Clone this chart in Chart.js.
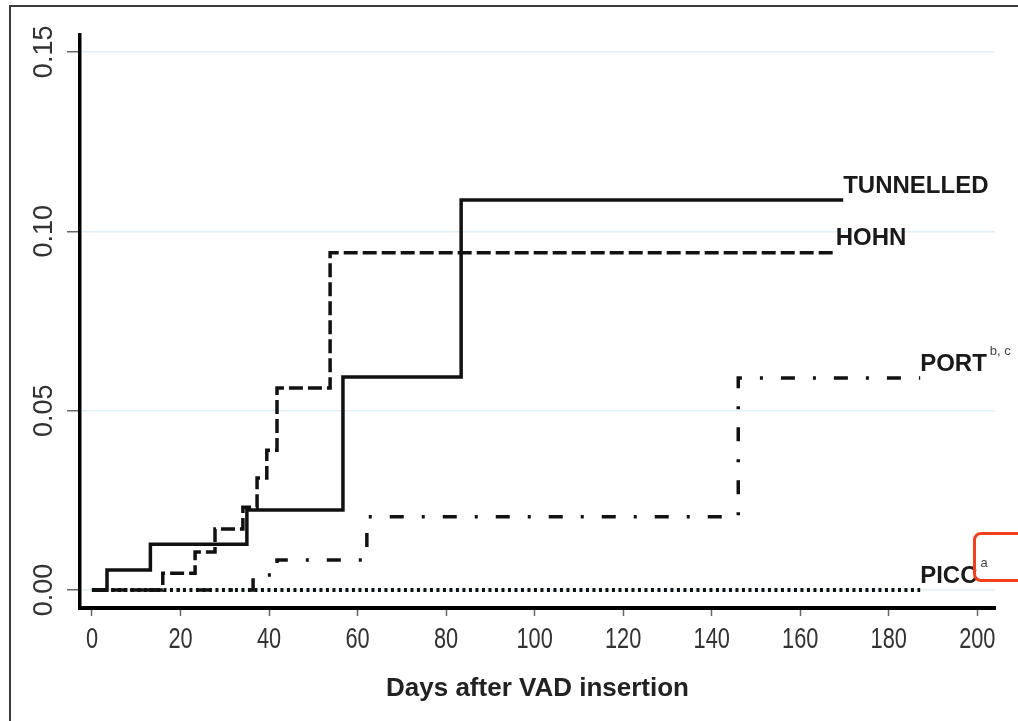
<!DOCTYPE html>
<html>
<head>
<meta charset="utf-8">
<script src="https://cdn.jsdelivr.net/npm/chart.js@4"></script>
<style>
  body { margin: 0; background: #fff; }
  #wrap { position: relative; width: 1018px; height: 721px; overflow: hidden; }
  #frame { position: absolute; left: 9px; top: 5px; width: 1100px; height: 800px;
           border-left: 2px solid #3a3a3a; border-top: 2px solid #3a3a3a; }
  #mark { position: absolute; left: 973px; top: 532px; width: 70px; height: 44px;
          border: 3px solid #f2401b; border-radius: 8px; }
  canvas { position: absolute; left: 0; top: 0; }
</style>
</head>
<body>
<div id="wrap">
  <canvas id="km" width="1018" height="721"></canvas>
  <div id="frame"></div>
  <div id="mark"></div>
</div>
<script>
// cumulative incidence (days, proportion)
const tunnelledDays = [0, 3.4, 13.2, 35, 56.7, 83.4, 169.7];
const tunnelledVals = [0, 0.0056, 0.0128, 0.0223, 0.0594, 0.1087, 0.1087];

const hohnDays = [0, 16, 23.3, 27.8, 34.1, 37.3, 39.5, 41.8, 53.8, 168];
const hohnVals = [0, 0.0047, 0.0106, 0.017, 0.0231, 0.0312, 0.039, 0.0563, 0.094, 0.094];

const portDays = [0, 36.4, 41.8, 62.1, 146, 187.1];
const portVals = [0, 0.0042, 0.0084, 0.0204, 0.0591, 0.0591];

const piccDays = [0, 187.1];
const piccVals = [0, 0];

const seriesNames = ['PICC', 'PORT', 'HOHN', 'TUNNELLED'];
const seriesSup = ['a', 'b, c', '', ''];

const xTicks = [0, 20, 40, 60, 80, 100, 120, 140, 160, 180, 200];
const yTicks = [0, 0.05, 0.10, 0.15];

const sans = "'Liberation Sans', Arial, sans-serif";

function pts(xs, ys) {
  return xs.map((x, i) => ({ x: x, y: ys[i] }));
}

// tick labels: y turned on their side, x squeezed like the print
const tickLabels = {
  id: 'tickLabels',
  afterDraw(chart) {
    const ctx = chart.ctx;
    const y = chart.scales.y;
    const x = chart.scales.x;
    ctx.save();
    ctx.fillStyle = '#333';
    ctx.textAlign = 'center';
    ctx.textBaseline = 'middle';
    ctx.font = '27px ' + sans;
    yTicks.forEach(v => {
      ctx.save();
      ctx.translate(45, y.getPixelForValue(v));
      ctx.rotate(-Math.PI / 2);
      ctx.fillText(v.toFixed(2), 0, 0);
      ctx.restore();
    });
    ctx.font = '29px ' + sans;
    xTicks.forEach(v => {
      ctx.save();
      ctx.translate(x.getPixelForValue(v), 640);
      ctx.scale(0.75, 1);
      ctx.fillText(String(v), 0, 0);
      ctx.restore();
    });
    ctx.restore();
  }
};

// name at the end of each curve
const endLabels = {
  id: 'endLabels',
  afterDatasetsDraw(chart) {
    const ctx = chart.ctx;
    ctx.save();
    chart.data.datasets.forEach((ds, i) => {
      const meta = chart.getDatasetMeta(i);
      const last = meta.data[meta.data.length - 1];
      const tx = last.x;
      const ty = last.y - 14;
      ctx.fillStyle = '#1a1a1a';
      ctx.font = 'bold 24px ' + sans;
      ctx.textAlign = 'left';
      ctx.textBaseline = 'middle';
      ctx.fillText(seriesNames[i], tx, ty);
      if (seriesSup[i]) {
        const w = ctx.measureText(seriesNames[i]).width;
        ctx.font = '13px ' + sans;
        ctx.fillStyle = '#444';
        ctx.fillText(seriesSup[i], tx + w + 3, ty - 13);
      }
    });
    ctx.restore();
  }
};

const common = {
  borderColor: '#111',
  borderWidth: 3.5,
  pointRadius: 0,
  stepped: 'before',
  fill: false
};

new Chart(document.getElementById('km'), {
  type: 'line',
  data: {
    datasets: [
      Object.assign({ label: 'PICC', data: pts(piccDays, piccVals), borderDash: [3, 3.5] }, common, { borderWidth: 4 }),
      Object.assign({ label: 'PORT', data: pts(portDays, portVals), borderDash: [14, 18, 3, 18] }, common),
      Object.assign({ label: 'HOHN', data: pts(hohnDays, hohnVals), borderDash: [14, 5] }, common),
      Object.assign({ label: 'TUNNELLED', data: pts(tunnelledDays, tunnelledVals) }, common)
    ]
  },
  options: {
    responsive: false,
    animation: false,
    devicePixelRatio: 1,
    layout: { padding: { left: 10, top: 35, right: 23, bottom: 0 } },
    plugins: { legend: { display: false }, tooltip: { enabled: false } },
    scales: {
      x: {
        type: 'linear',
        min: -2.7,
        max: 204,
        afterBuildTicks: s => { s.ticks = xTicks.map(v => ({ value: v })); },
        afterFit: s => { s.height = 113; },
        ticks: { display: false },
        grid: {
          drawOnChartArea: false,
          tickLength: 8,
          tickColor: '#666',
          tickWidth: 1.5
        },
        border: { display: true, color: '#000', width: 4 },
        title: {
          display: true,
          text: 'Days after VAD insertion',
          color: '#222',
          font: { family: sans, size: 26, weight: 'bold' },
          padding: { top: 0, bottom: 17 }
        }
      },
      y: {
        type: 'linear',
        min: -0.005,
        max: 0.1547,
        afterBuildTicks: s => { s.ticks = yTicks.map(v => ({ value: v })); },
        afterFit: s => { s.width = 70; },
        ticks: { display: false },
        grid: {
          color: '#e2f0f5',
          lineWidth: 1.5,
          tickLength: 13,
          tickColor: '#666',
          tickWidth: 1.5
        },
        border: { display: true, color: '#000', width: 3.5 }
      }
    }
  },
  plugins: [tickLabels, endLabels]
});
</script>
</body>
</html>
